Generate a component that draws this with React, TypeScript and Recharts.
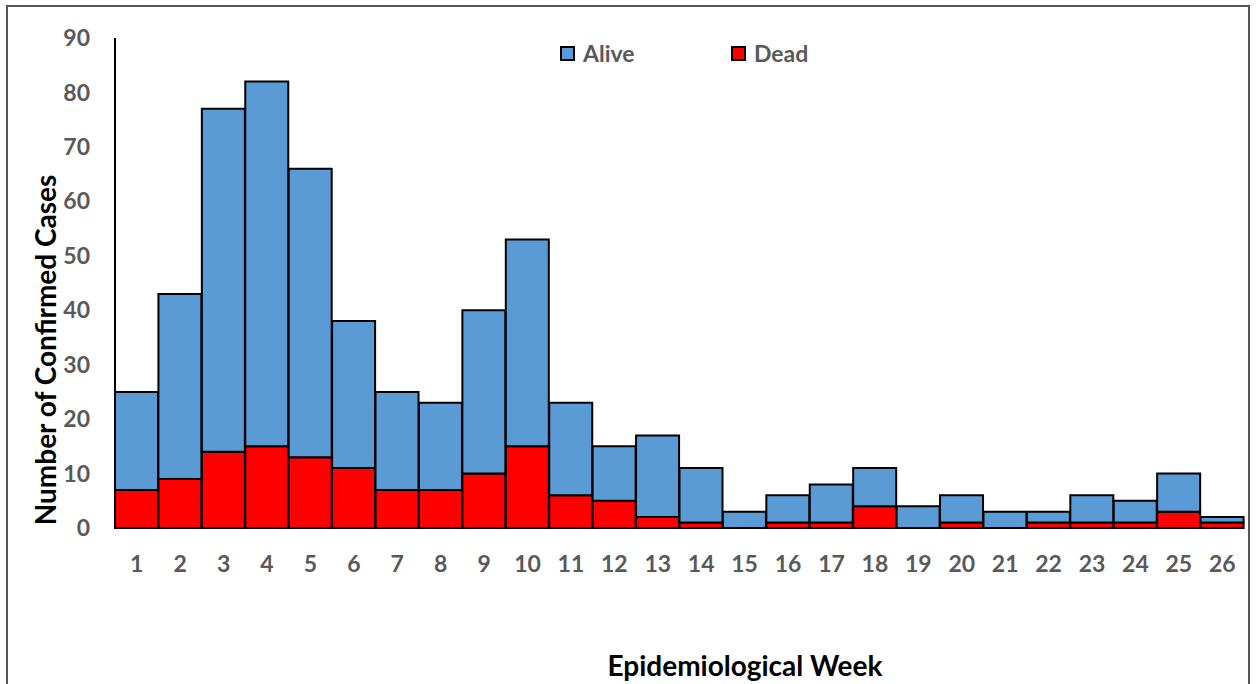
import React from 'react';
import { BarChart, Bar, XAxis, YAxis } from 'recharts';

const weeks = ['1','2','3','4','5','6','7','8','9','10','11','12','13','14','15','16','17','18','19','20','21','22','23','24','25','26'];
const totalCases = [25, 43, 77, 82, 66, 38, 25, 23, 40, 53, 23, 15, 17, 11, 3, 6, 8, 11, 4, 6, 3, 3, 6, 5, 10, 2];
const deadCases = [7, 9, 14, 15, 13, 11, 7, 7, 10, 15, 6, 5, 2, 1, 0, 1, 1, 4, 0, 1, 0, 1, 1, 1, 3, 1];
const yTicks = [0, 10, 20, 30, 40, 50, 60, 70, 80, 90];

const data = weeks.map((w, i) => ({
  week: w,
  Dead: deadCases[i],
  Alive: totalCases[i] - deadCases[i],
}));

const FONT = 'Lato, "Open Sans", "Noto Sans", sans-serif';
const BLUE = '#5B9BD5';
const RED = '#FF0000';
const GRAY = '#595959';

const LegendContent = () => (
  <div style={{ display: 'flex', fontFamily: FONT, fontWeight: 700, fontSize: 23, color: GRAY }}>
    {[
      { name: 'Alive', color: BLUE },
      { name: 'Dead', color: RED },
    ].map((it, i) => (
      <div key={it.name} style={{ display: 'flex', alignItems: 'center', width: i === 0 ? 171 : 'auto' }}>
        <span style={{ display: 'inline-block', width: 11, height: 11, background: it.color, border: '2px solid #000', marginRight: 8 }} />
        <span>{it.name}</span>
      </div>
    ))}
  </div>
);

export default function App() {
  return (
    <div style={{ position: 'absolute', left: 0, top: 0, width: 1258, height: 684, background: '#fff', overflow: 'hidden' }}>
      <div style={{ position: 'absolute', left: 6, top: 5, width: 1244, height: 700, border: '2px solid #555', boxSizing: 'border-box' }} />
      <div style={{ position: 'absolute', left: 560, top: 39 }}>
        <LegendContent />
      </div>
      <div style={{ position: 'absolute', left: 0, top: 0 }}>
        <BarChart width={1258} height={684} data={data} barCategoryGap={0} margin={{ top: 38, right: 14, bottom: 96, left: 0 }}>
          <YAxis
            domain={[0, 90]}
            ticks={yTicks}
            width={115}
            tickLine={false}
            tickSize={0}
            tickMargin={25}
            axisLine={{ stroke: '#000', strokeWidth: 2 }}
            tick={{ fill: GRAY, fontFamily: FONT, fontWeight: 700, fontSize: 23 }}
            interval={0}
            label={{
              content: () => (
                <text x={45} y={350} transform="rotate(-90 45 350)" textAnchor="middle" dominantBaseline="central" fill="#000" fontFamily={FONT} fontWeight={700} fontSize={28}>
                  Number of Confirmed Cases
                </text>
              ),
            }}
          />
          <XAxis
            dataKey="week"
            height={60}
            tickLine={false}
            axisLine={false}
            tickSize={0}
            tickMargin={28}
            interval={0}
            tick={{ fill: GRAY, fontFamily: FONT, fontWeight: 700, fontSize: 23 }}
            label={{
              content: () => (
                <text x={745} y={665} textAnchor="middle" dominantBaseline="central" fill="#000" fontFamily={FONT} fontWeight={700} fontSize={28}>
                  Epidemiological Week
                </text>
              ),
            }}
          />
          <Bar dataKey="Dead" stackId="a" fill={RED} stroke="#000" strokeWidth={2} isAnimationActive={false} />
          <Bar dataKey="Alive" stackId="a" fill={BLUE} stroke="#000" strokeWidth={2} isAnimationActive={false} />
        </BarChart>
      </div>
    </div>
  );
}
